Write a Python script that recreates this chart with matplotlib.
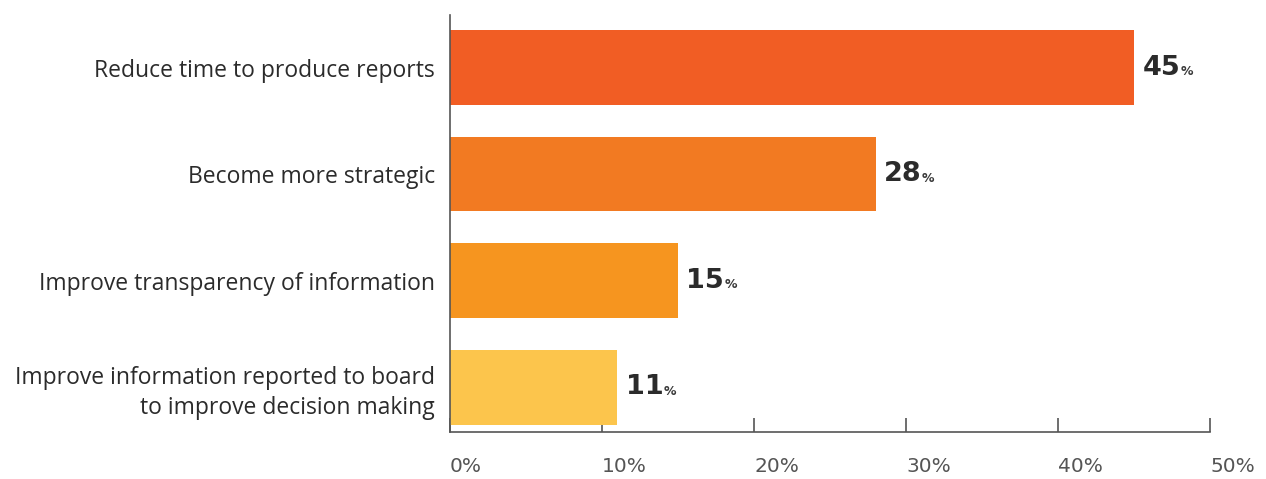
import matplotlib
matplotlib.use("Agg")
import matplotlib.pyplot as plt

categories = ["Reduce time to produce reports", "Become more strategic",
              "Improve transparency of information",
              "Improve information reported to board\nto improve decision making"]
values = [45, 28, 15, 11]
colors = ["#F15D24", "#F27A22", "#F6951F", "#FCC54C"]
ticks = [0, 10, 20, 30, 40, 50]

plt.rcParams["font.family"] = ["Open Sans", "DejaVu Sans"]

fig = plt.figure(figsize=(12.66, 4.79), dpi=100)
ax = fig.add_axes([0.3555, 0.0981, 0.6003, 0.8706])

y = list(range(len(categories)))
ax.barh(y, values, height=0.70, color=colors, zorder=2)
ax.set_ylim(3.42, -0.493)
ax.set_xlim(0, 50)

ax.set_yticks(y)
ax.set_yticklabels(categories, fontsize=16.5, color="#2b2b2b", linespacing=1.3)
ax.tick_params(axis="y", length=0, pad=11)
ax.set_xticks(ticks)
ax.set_xticklabels([f"{t}%" for t in ticks], fontsize=14.5, color="#555555",
                   family="DejaVu Sans", ha="left")
ax.tick_params(axis="x", direction="in", length=10, width=1.2, color="#555555", pad=18)

for s in ["top", "right"]:
    ax.spines[s].set_visible(False)
for s in ["left", "bottom"]:
    ax.spines[s].set_color("#555555")
    ax.spines[s].set_linewidth(1.2)

fig.canvas.draw()
r = fig.canvas.get_renderer()
for yi, v in zip(y, values):
    t = ax.annotate(str(v), (v, yi), xytext=(6, 0), textcoords="offset points",
                    va="center", ha="left", fontsize=19.5, fontweight="bold",
                    color="#2b2b2b", family="DejaVu Sans")
    bb = t.get_window_extent(r)
    x1, _ = ax.transData.inverted().transform((bb.x1, 0))
    ax.annotate("%", (x1, yi), xytext=(0, -3), textcoords="offset points",
                va="center", ha="left", fontsize=9, fontweight="bold",
                color="#3a3a3a", family="DejaVu Sans")

fig.savefig("out.png", dpi=100)
